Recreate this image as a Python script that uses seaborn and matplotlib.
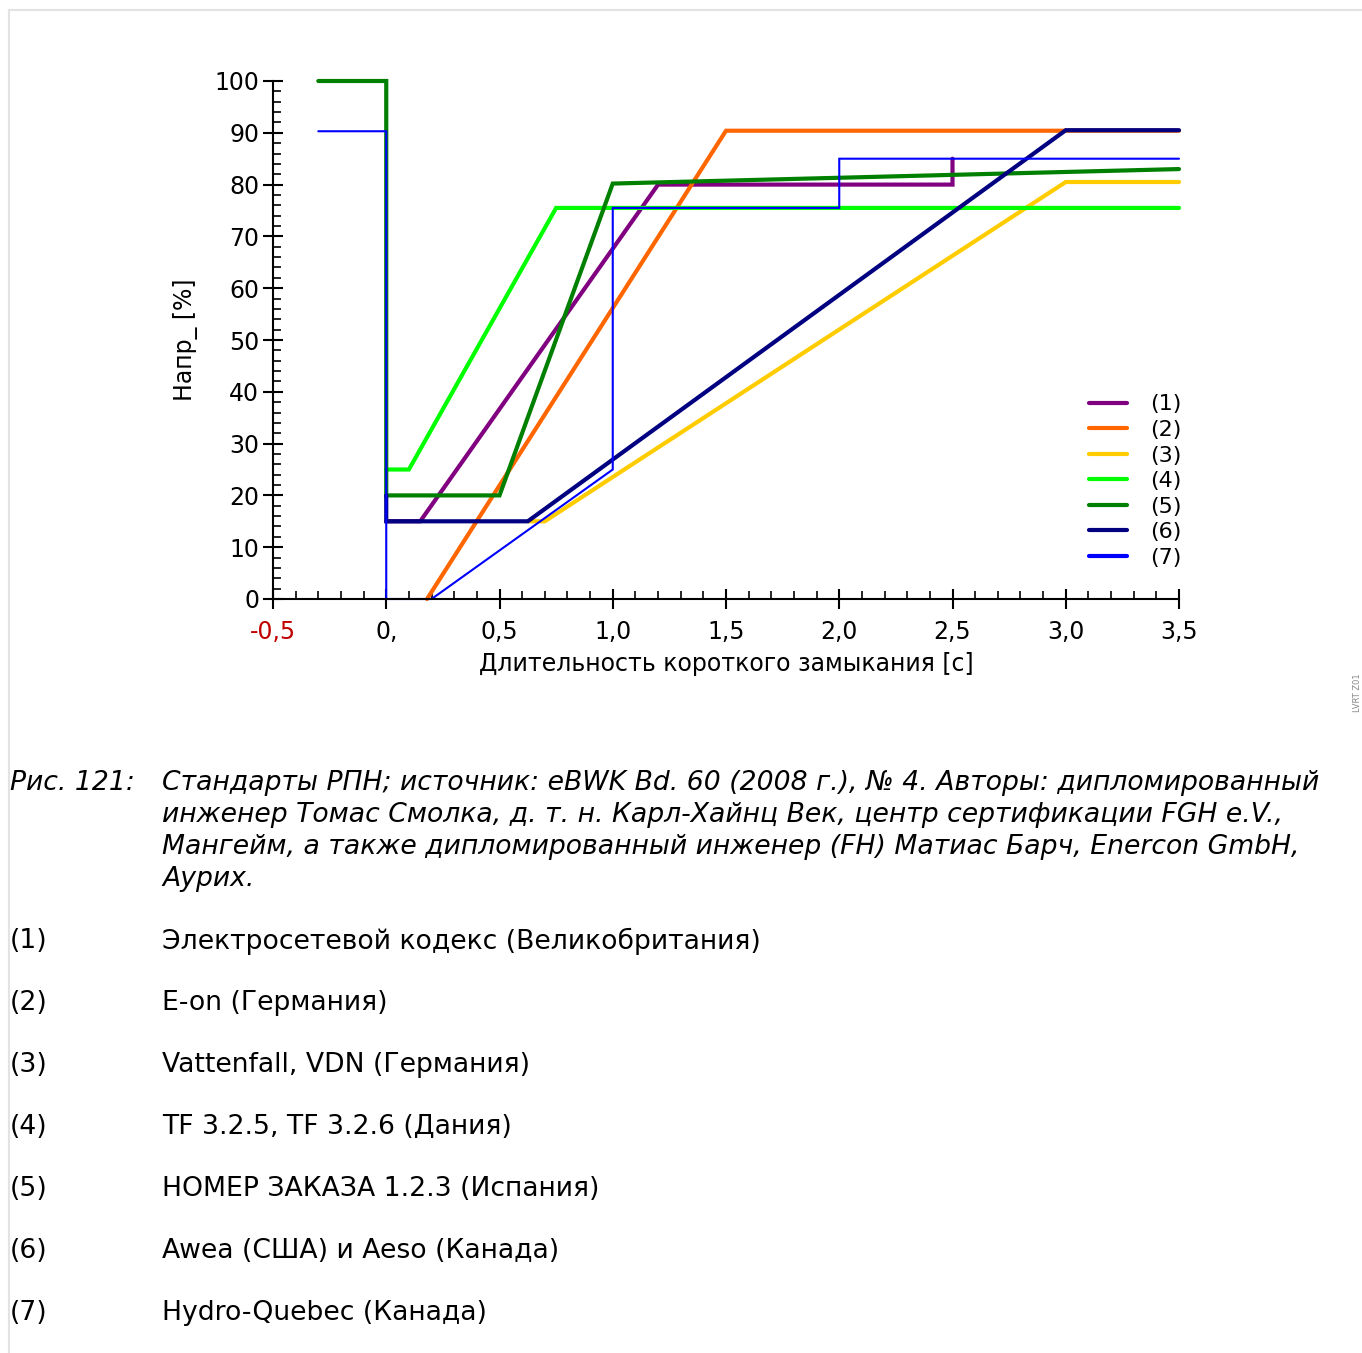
import numpy as np
import pandas as pd
import seaborn as sns
import matplotlib.pyplot as plt
from matplotlib.lines import Line2D
from matplotlib.ticker import MultipleLocator

# Data (time in s, voltage in %)
labels = ['(1)', '(2)', '(3)', '(4)', '(5)', '(6)', '(7)']
colors = ['#800080', '#ff6600', '#ffcc00', '#00ff00', '#008000', '#000080', '#0000ff']
widths = [3, 3, 3, 3, 3, 3, 1.5]

t1 = [0.0, 0.15, 1.2, 2.5, 2.5]
u1 = [15, 15, 80, 80, 85]
t2 = [0.18, 1.5, 3.5]
u2 = [0, 90.4, 90.4]
t3 = [0.625, 0.7, 3.0, 3.5]
u3 = [15, 15, 80.5, 80.5]
t4 = [0.0, 0.1, 0.75, 3.5]
u4 = [25, 25, 75.5, 75.5]
t5 = [-0.3, 0.0, 0.0, 0.5, 1.0, 3.5]
u5 = [100, 100, 20, 20, 80.2, 83]
t6 = [0.0, 0.0, 0.625, 3.0, 3.5]
u6 = [20, 15, 15, 90.5, 90.5]
t7 = [-0.3, 0.0, 0.0, 0.2, 1.0, 1.0, 2.0, 2.0, 3.5]
u7 = [90.3, 90.3, 0, 0, 25, 75.5, 75.5, 85, 85]

series_t = [t1, t2, t3, t4, t5, t6, t7]
series_u = [u1, u2, u3, u4, u5, u6, u7]

xticks = [-0.5, 0.0, 0.5, 1.0, 1.5, 2.0, 2.5, 3.0, 3.5]
xticklabels = ['-0,5', '0,', '0,5', '1,0', '1,5', '2,0', '2,5', '3,0', '3,5']
yticks = list(range(0, 101, 10))

caption = ['Стандарты РПН; источник: eBWK Bd. 60 (2008 г.), № 4. Авторы: дипломированный',
           'инженер Томас Смолка, д. т. н. Карл-Хайнц Век, центр сертификации FGH e.V.,',
           'Мангейм, а также дипломированный инженер (FH) Матиас Барч, Enercon GmbH,',
           'Аурих.']
items = ['Электросетевой кодекс (Великобритания)',
         'E-on (Германия)',
         'Vattenfall, VDN (Германия)',
         'TF 3.2.5, TF 3.2.6 (Дания)',
         'НОМЕР ЗАКАЗА 1.2.3 (Испания)',
         'Awea (США) и Aeso (Канада)',
         'Hydro-Quebec (Канада)']

sns.set_style('ticks')
plt.rcParams['font.family'] = ['DejaVu Sans']
plt.rcParams['text.color'] = 'black'
plt.rcParams['axes.labelcolor'] = 'black'
plt.rcParams['xtick.color'] = 'black'
plt.rcParams['ytick.color'] = 'black'

W, H = 1362, 1353
fig = plt.figure(figsize=(W / 100, H / 100), dpi=100)
ax = fig.add_axes([273 / W, 1 - 599 / H, (1179 - 273) / W, (599 - 81) / H])

df = pd.concat([pd.DataFrame({'t': t, 'u': u, 'name': lab})
                for t, u, lab in zip(series_t, series_u, labels)], ignore_index=True)

for lab, col, lw in zip(labels, colors, widths):
    sub = df[df['name'] == lab]
    sns.lineplot(data=sub, x='t', y='u', sort=False, estimator=None, color=col,
                 linewidth=lw, ax=ax, clip_on=False, solid_joinstyle='miter')

ax.set_xlim(-0.5, 3.5)
ax.set_ylim(0, 100)
sns.despine(ax=ax)
for s in ['left', 'bottom']:
    ax.spines[s].set_linewidth(1.5)
    ax.spines[s].set_color('black')

ax.set_xticks(xticks)
ax.set_xticklabels(xticklabels)
ax.set_yticks(yticks)
ax.xaxis.set_minor_locator(MultipleLocator(0.1))
ax.yaxis.set_minor_locator(MultipleLocator(2))
ax.tick_params(which='both', bottom=True, left=True)
ax.tick_params(which='major', direction='inout', length=14, width=1.5, labelsize=17)
ax.tick_params(axis='x', which='major', pad=8)
ax.tick_params(axis='y', which='major', pad=3)
ax.tick_params(which='minor', direction='in', length=6, width=1.2)
ax.get_xticklabels()[0].set_color('#c00000')

ax.set_xlabel('Длительность короткого замыкания [с]', fontsize=17, labelpad=6)
ax.set_ylabel('Напр_ [%]', fontsize=17, labelpad=12)

handles = [Line2D([], [], color=c, lw=3) for c in colors]
ax.legend(handles, labels, loc='lower right', bbox_to_anchor=(1.022, 0.026), frameon=False,
          fontsize=16, handlelength=1.75, handletextpad=1.0, labelspacing=0.25,
          borderpad=0.3)

# caption and legend key below the chart
fig.text(10 / W, 1 - 783 / H, 'Рис. 121:', fontsize=19.2, style='italic', va='center')
for i, line in enumerate(caption):
    fig.text(162 / W, 1 - (783 + 32 * i) / H, line, fontsize=19.2, style='italic', va='center')
for i, (lab, txt) in enumerate(zip(labels, items)):
    y = 1 - (941 + 62 * i) / H
    fig.text(10 / W, y, lab, fontsize=19.2, va='center')
    fig.text(162 / W, y, txt, fontsize=19.2, va='center')

fig.text(1357 / W, 1 - 693 / H, 'LVRT Z01', fontsize=6, rotation=90, color='#888888',
         ha='center', va='center')

# light frame
fig.add_artist(Line2D([9 / W, 9 / W], [0, 1 - 10 / H], color='#e3e3e3', lw=1.5))
fig.add_artist(Line2D([9 / W, 1], [1 - 10 / H, 1 - 10 / H], color='#e3e3e3', lw=1.5))

fig.savefig('out.png', dpi=100)
